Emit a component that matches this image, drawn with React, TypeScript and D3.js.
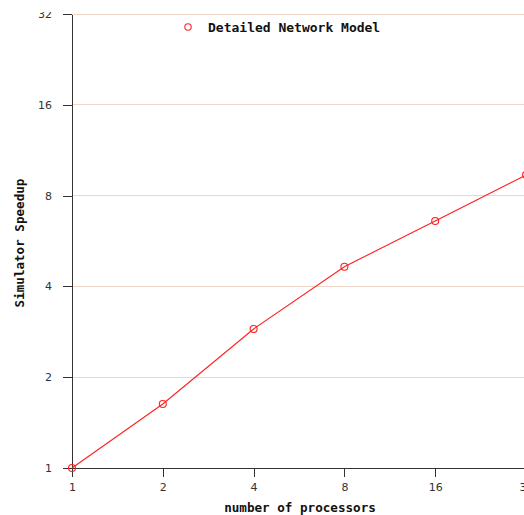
import React, { useRef, useEffect } from "react";
import * as d3 from "d3";

// data
const processors = [1, 2, 4, 8, 16, 32];
const speedup = [1, 1.63, 2.89, 4.65, 6.59, 9.36];
const xTicks = [1, 2, 4, 8, 16, 32];
const yTicks = [1, 2, 4, 8, 16, 32];
const seriesName = "Detailed Network Model";

const width = 524;
const height = 515;
const margin = { top: 14, right: -2, bottom: 47, left: 72 };

const App = () => {
  const ref = useRef<SVGSVGElement>(null);

  useEffect(() => {
    const svg = d3.select(ref.current);
    svg.selectAll("*").remove();

    const x = d3.scaleLog().base(2).domain([1, 32]).range([margin.left, width - margin.right]);
    const y = d3.scaleLog().base(2).domain([1, 32]).range([height - margin.bottom, margin.top]);

    // top labels are cut a little in the original picture
    svg.append("defs").append("clipPath").attr("id", "lblclip")
      .append("rect").attr("x", 0).attr("y", 12).attr("width", width).attr("height", height);

    // grid
    svg.append("g")
      .selectAll("line")
      .data(yTicks.slice(1))
      .join("line")
      .attr("x1", margin.left)
      .attr("x2", width)
      .attr("y1", (d) => y(d))
      .attr("y2", (d) => y(d))
      .attr("stroke", "#f0d6c8")
      .attr("stroke-width", 1)
      .attr("shape-rendering", "crispEdges");

    // axes
    const yAxis = svg.append("g")
      .attr("clip-path", "url(#lblclip)")
      .append("g")
      .attr("transform", `translate(${margin.left},0)`)
      .call(d3.axisLeft(y).tickValues(yTicks).tickFormat(d3.format("d")).tickSize(9).tickPadding(11).tickSizeOuter(0));
    const xAxis = svg.append("g")
      .attr("transform", `translate(0,${height - margin.bottom})`)
      .call(d3.axisBottom(x).tickValues(xTicks).tickFormat(d3.format("d")).tickSize(9).tickPadding(6).tickSizeOuter(0));

    [xAxis, yAxis].forEach((g) => {
      g.select(".domain").attr("stroke", "#333").attr("shape-rendering", "crispEdges");
      g.selectAll(".tick line").attr("stroke", "#333").attr("shape-rendering", "crispEdges");
      g.selectAll(".tick text")
        .attr("fill", "#333")
        .style("font-family", "DejaVu Sans, Verdana, sans-serif")
        .style("font-size", "11px");
    });

    const pts = processors.map((p, i) => [p, speedup[i]] as [number, number]);

    const line = d3.line<[number, number]>()
      .x((d) => x(d[0]))
      .y((d) => y(d[1]));

    svg.append("path")
      .datum(pts)
      .attr("fill", "none")
      .attr("stroke", "#ff2020")
      .attr("stroke-width", 1.1)
      .attr("d", line);

    svg.append("g")
      .selectAll("circle")
      .data(pts)
      .join("circle")
      .attr("cx", (d) => x(d[0]))
      .attr("cy", (d) => y(d[1]))
      .attr("r", 3.5)
      .attr("fill", "none")
      .attr("stroke", "#ff2020")
      .attr("stroke-width", 1.1);

    // legend
    svg.append("circle")
      .attr("cx", 188)
      .attr("cy", 27)
      .attr("r", 3.2)
      .attr("fill", "none")
      .attr("stroke", "#ff2020")
      .attr("stroke-width", 1.1);
    svg.append("text")
      .attr("x", 208)
      .attr("y", 31.5)
      .style("font-family", "DejaVu Sans Mono, monospace")
      .style("font-weight", "bold")
      .style("font-size", "13px")
      .attr("fill", "#111")
      .text(seriesName);

    // axis titles
    svg.append("text")
      .attr("x", 300)
      .attr("y", 512)
      .attr("text-anchor", "middle")
      .style("font-family", "DejaVu Sans Mono, monospace")
      .style("font-weight", "bold")
      .style("font-size", "12.6px")
      .attr("fill", "#111")
      .text("number of processors");
    svg.append("text")
      .attr("transform", "translate(24,243) rotate(-90)")
      .attr("text-anchor", "middle")
      .style("font-family", "DejaVu Sans Mono, monospace")
      .style("font-weight", "bold")
      .style("font-size", "12.6px")
      .attr("fill", "#111")
      .text("Simulator Speedup");
  }, []);

  return (
    <svg
      ref={ref}
      width={width}
      height={height}
      style={{ position: "absolute", left: 0, top: 0, background: "#fff" }}
    />
  );
};

export default App;
